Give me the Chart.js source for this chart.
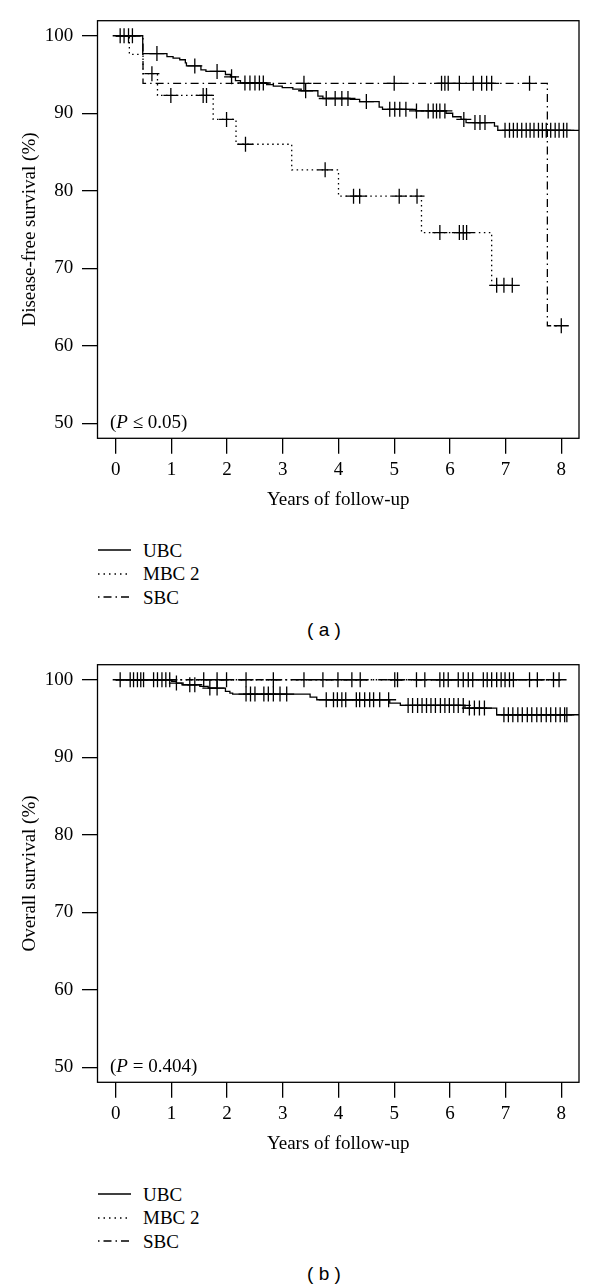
<!DOCTYPE html>
<html>
<head>
<meta charset="utf-8">
<script src="https://cdn.jsdelivr.net/npm/chart.js@4.4.1/dist/chart.umd.min.js"></script>
<style>
  html,body{margin:0;padding:0;background:#fff;}
  body{width:600px;height:1288px;position:relative;overflow:hidden;font-family:"Liberation Serif","Times New Roman",serif;color:#000;}
  canvas{position:absolute;left:0;}
  #cA{top:0;}
  #cB{top:644px;}
  .legend{position:absolute;left:98px;font-size:19px;}
  .legend .row{display:flex;align-items:center;height:23.5px;line-height:23.5px;}
  .legend svg{display:block;margin-right:12px;}
  .cap{position:absolute;left:0;width:648px;text-align:center;font-family:"Liberation Sans",Arial,sans-serif;font-size:19px;line-height:22px;}
</style>
</head>
<body>
<canvas id="cA" width="600" height="520"></canvas>
<canvas id="cB" width="600" height="520"></canvas>
<div class="legend" id="legA" style="top:538.5px"></div>
<div class="cap" style="top:619px">( a )</div>
<div class="legend" id="legB" style="top:1182.5px"></div>
<div class="cap" style="top:1263px">( b )</div>
<script>
// ---------- axes ----------
const xTicks = [0, 1, 2, 3, 4, 5, 6, 7, 8];
const yTicks = [50, 60, 70, 80, 90, 100];
const seriesNames = ['UBC', 'MBC 2', 'SBC'];
const xTitle = 'Years of follow-up';
const yTitleA = 'Disease-free survival (%)';
const yTitleB = 'Overall survival (%)';

// ---------- (a) disease-free survival: step times / survival after step ----------
const dfsUbcT = [0, 0.485, 0.92, 1.03, 1.15, 1.25, 1.27, 1.53, 1.62, 1.97, 2.06, 2.15, 2.24, 2.71, 2.83, 2.99, 3.18, 3.33, 3.63, 3.72, 4.21, 4.38, 4.73, 4.79, 5.39, 5.93, 6.05, 6.20, 6.29, 6.80, 6.86, 8.6];
const dfsUbcS = [100, 97.7, 97.3, 97.1, 96.9, 96.5, 96.1, 95.6, 95.4, 95.0, 94.7, 94.2, 93.9, 93.7, 93.5, 93.3, 93.1, 92.9, 92.2, 91.9, 91.8, 91.5, 90.8, 90.5, 90.3, 90.0, 89.55, 89.2, 88.8, 88.35, 87.8, 87.8];
const dfsMbcT = [0, 0.245, 0.49, 0.75, 1.75, 2.16, 3.16, 4.0, 5.49, 6.75, 7.12];
const dfsMbcS = [100, 97.6, 95.1, 92.3, 89.2, 86.0, 82.7, 79.3, 74.6, 67.8, 67.8];
const dfsSbcT = [0, 0.49, 7.75, 8.0];
const dfsSbcS = [100, 93.86, 62.58, 62.58];
// censored observations (years)
const dfsUbcCens = [0.08, 0.15, 0.23, 0.30, 0.74, 1.42, 1.82, 2.08, 2.32, 2.41, 2.50, 2.58, 2.65, 3.41, 3.78, 3.94, 4.06, 4.17, 4.50, 4.92, 5.01, 5.10, 5.21, 5.40, 5.61, 5.70, 5.76, 5.82, 5.91, 6.25, 6.45, 6.54, 6.63, 6.99, 7.07, 7.14, 7.21, 7.29, 7.37, 7.44, 7.51, 7.59, 7.66, 7.73, 7.81, 7.89, 7.96, 8.04, 8.10];
const dfsMbcCens = [0.65, 0.99, 1.57, 1.63, 1.99, 2.33, 3.76, 4.27, 4.38, 5.09, 5.41, 5.82, 6.17, 6.24, 6.30, 6.84, 6.97, 7.12];
const dfsSbcCens = [3.38, 5.00, 5.85, 5.91, 5.97, 6.17, 6.42, 6.57, 6.66, 6.75, 7.43, 8.00];

// ---------- (b) overall survival ----------
const osUbcT = [0, 1.005, 1.09, 1.19, 1.51, 1.66, 1.97, 2.05, 2.10, 3.49, 3.61, 4.92, 5.11, 6.27, 6.84, 8.6];
const osUbcS = [100, 99.78, 99.57, 99.35, 99.14, 98.92, 98.49, 98.28, 98.15, 97.76, 97.42, 96.99, 96.69, 96.34, 95.48, 95.48];
const osMbcT = [0, 7.96];
const osMbcS = [100, 100];
const osSbcT = [0, 7.96];
const osSbcS = [100, 100];
const osUbcCens = [0.08, 0.32, 0.39, 0.68, 0.83, 1.09, 1.33, 1.42, 1.69, 1.82, 2.34, 2.42, 2.50, 2.66, 2.74, 2.83, 2.95, 3.07, 3.78, 3.91, 3.98, 4.06, 4.13, 4.32, 4.38, 4.47, 4.56, 4.63, 4.74, 4.90, 5.25, 5.33, 5.42, 5.50, 5.58, 5.66, 5.74, 5.83, 5.91, 5.99, 6.07, 6.15, 6.24, 6.35, 6.44, 6.53, 6.62, 6.97, 7.05, 7.13, 7.22, 7.30, 7.39, 7.47, 7.56, 7.64, 7.73, 7.81, 7.90, 7.98, 8.06, 8.10];
const osMbcCens = [0.26, 0.45, 0.75, 0.97, 1.58, 2.34, 3.38, 3.99, 4.39, 5.06, 5.55, 5.89, 6.15, 6.33, 6.60, 6.75, 6.92, 7.07, 7.43, 7.86, 7.96];
const osSbcCens = [0.50, 0.90, 1.82, 1.99, 2.83, 3.72, 4.24, 5.01, 5.40, 5.82, 5.97, 6.24, 6.41, 6.67, 6.84, 6.99, 7.14, 7.57];

const pTextA = [{t: '('}, {t: 'P', i: true}, {t: ' \u2264 0.05)'}];
const pTextB = [{t: '('}, {t: 'P', i: true}, {t: ' = 0.404)'}];

const SERIF = '"Liberation Serif", "Times New Roman", serif';
const dashes = [[], [1.5, 3.5], [8, 4, 1.5, 4]];
const LW = 1.3;

function stepValue(T, S, t) {
  let v = S[0];
  for (let i = 0; i < T.length; i++) if (T[i] <= t) v = S[i];
  return v;
}

const framePlugin = {
  id: 'frame',
  afterDatasetsDraw(chart, args, opts) {
    const {ctx, chartArea: a, scales} = chart;
    ctx.save();
    ctx.strokeStyle = '#000';
    ctx.lineWidth = LW;
    ctx.setLineDash([]);
    ctx.strokeRect(a.left, a.top, a.right - a.left, a.bottom - a.top);
    const y = scales.y.getPixelForValue(yTicks[0]);
    let x = a.left + 12.5;
    ctx.fillStyle = '#000';
    ctx.textBaseline = 'middle';
    ctx.textAlign = 'left';
    (opts.parts || []).forEach(p => {
      ctx.font = (p.i ? 'italic ' : '') + '19px ' + SERIF;
      ctx.fillText(p.t, x, y);
      x += ctx.measureText(p.t).width;
    });
    ctx.restore();
  }
};

function makeChart(id, lines, cens, yTitle, parts) {
  const datasets = [];
  lines.forEach((L, k) => {
    datasets.push({
      label: seriesNames[k],
      data: L[0].map((t, i) => ({x: t, y: L[1][i]})),
      stepped: true,
      borderColor: '#000',
      borderWidth: LW,
      borderDash: dashes[k],
      borderCapStyle: 'butt',
      pointRadius: 0,
      fill: false,
      showLine: true
    });
  });
  cens.forEach((C, k) => {
    datasets.push({
      label: seriesNames[k] + ' censored',
      data: C.map(t => ({x: t, y: stepValue(lines[k][0], lines[k][1], t)})),
      showLine: false,
      pointStyle: 'cross',
      pointRadius: 7.5,
      pointHoverRadius: 7.5,
      pointBorderColor: '#000',
      pointBorderWidth: LW,
      pointBackgroundColor: 'rgba(0,0,0,0)',
      borderColor: '#000'
    });
  });
  const gridOpts = {display: true, drawOnChartArea: false, drawTicks: true, tickLength: 15.5, tickColor: '#000', tickWidth: LW, lineWidth: LW, color: '#000'};
  return new Chart(document.getElementById(id), {
    type: 'line',
    data: {datasets},
    plugins: [framePlugin],
    options: {
      responsive: false,
      animation: false,
      devicePixelRatio: 1,
      events: [],
      layout: {padding: {left: 0, right: 21, top: 20.7, bottom: 0}},
      plugins: {legend: {display: false}, tooltip: {enabled: false}, frame: {parts}},
      scales: {
        x: {
          type: 'linear', min: -0.327, max: 8.318,
          afterBuildTicks: s => { s.ticks = xTicks.map(v => ({value: v})); },
          afterFit: s => { s.height = 81.7; },
          grid: gridOpts,
          border: {display: false},
          ticks: {color: '#000', font: {family: SERIF, size: 19}, padding: 5.3, maxRotation: 0, autoSkip: false},
          title: {display: true, text: xTitle, color: '#000', font: {family: SERIF, size: 19}, padding: {top: 0, bottom: 8.6}}
        },
        y: {
          type: 'linear', min: 48.06, max: 101.94,
          afterBuildTicks: s => { s.ticks = yTicks.map(v => ({value: v})); },
          afterFit: s => { s.width = 97.5; },
          grid: gridOpts,
          border: {display: false},
          ticks: {color: '#000', font: {family: SERIF, size: 19}, padding: 8.7},
          title: {display: true, text: yTitle, color: '#000', font: {family: SERIF, size: 19}, padding: {top: 18.6, bottom: 0}}
        }
      }
    }
  });
}

makeChart('cA',
  [[dfsUbcT, dfsUbcS], [dfsMbcT, dfsMbcS], [dfsSbcT, dfsSbcS]],
  [dfsUbcCens, dfsMbcCens, dfsSbcCens], yTitleA, pTextA);
makeChart('cB',
  [[osUbcT, osUbcS], [osMbcT, osMbcS], [osSbcT, osSbcS]],
  [osUbcCens, osMbcCens, osSbcCens], yTitleB, pTextB);

function buildLegend(id) {
  const el = document.getElementById(id);
  seriesNames.forEach((n, k) => {
    const row = document.createElement('div');
    row.className = 'row';
    const ns = 'http://www.w3.org/2000/svg';
    const svg = document.createElementNS(ns, 'svg');
    svg.setAttribute('width', '33'); svg.setAttribute('height', '4');
    const ln = document.createElementNS(ns, 'line');
    ln.setAttribute('x1', '0'); ln.setAttribute('x2', '33');
    ln.setAttribute('y1', '2'); ln.setAttribute('y2', '2');
    ln.setAttribute('stroke', '#000'); ln.setAttribute('stroke-width', String(LW));
    if (k === 1) ln.setAttribute('stroke-dasharray', '1.5,4');
    if (k === 2) ln.setAttribute('stroke-dasharray', '1.5,4,8,4');
    svg.appendChild(ln);
    const sp = document.createElement('span');
    sp.textContent = n;
    row.appendChild(svg); row.appendChild(sp);
    el.appendChild(row);
  });
}
buildLegend('legA');
buildLegend('legB');
</script>
</body>
</html>
